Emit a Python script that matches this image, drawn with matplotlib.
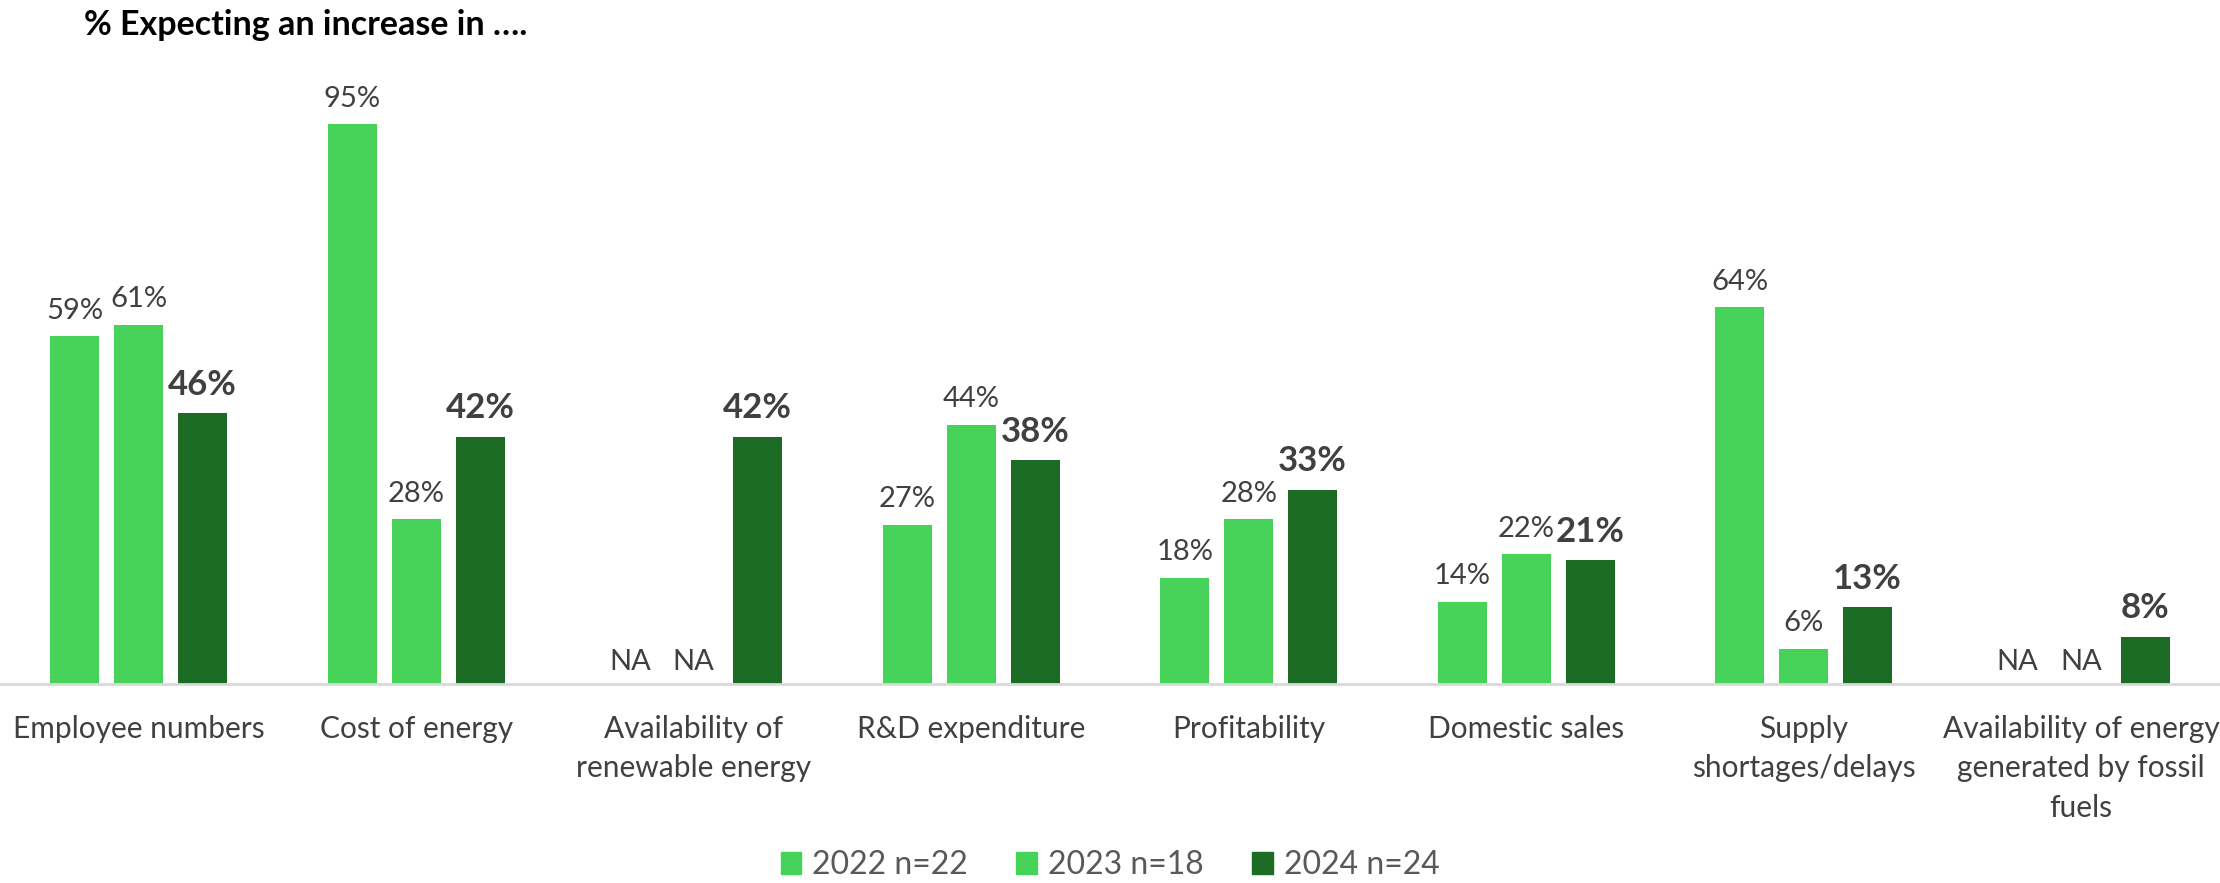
import numpy as np
import matplotlib
matplotlib.use("Agg")
import matplotlib.pyplot as plt
from matplotlib.patches import Patch

# data (None = NA)
categories = [
    "Employee numbers",
    "Cost of energy",
    "Availability of\nrenewable energy",
    "R&D expenditure",
    "Profitability",
    "Domestic sales",
    "Supply\nshortages/delays",
    "Availability of energy\ngenerated by fossil\nfuels",
]
vals_2022 = [59, 95, None, 27, 18, 14, 64, None]
vals_2023 = [61, 28, None, 44, 28, 22, 6, None]
vals_2024 = [46, 42, 42, 38, 33, 21, 13, 8]
series_labels = ["2022 n=22", "2023 n=18", "2024 n=24"]

LIGHT = "#47D35A"
DARK = "#1B6B25"
TXT = "#404040"

plt.rcParams["font.family"] = ["Lato", "DejaVu Sans"]

fig = plt.figure(figsize=(22.2, 8.83), dpi=100)
ax = fig.add_axes([0.0, 0.2254, 1.0, 0.667])

x = np.arange(len(categories))
width = 0.177
step = 0.23
series = [(vals_2022, LIGHT, False), (vals_2023, LIGHT, False), (vals_2024, DARK, True)]

for i, (vals, col, bold) in enumerate(series):
    xs = x + (i - 1) * step
    for xi, v in zip(xs, vals):
        if v is None:
            ax.text(xi, 1.5, "NA", ha="center", va="bottom", fontsize=21, color=TXT)
            continue
        ax.bar(xi, v, width=width, color=col)
        ax.annotate(f"{v}%", (xi, v), xytext=(0, 9), textcoords="offset points",
                    ha="center", va="bottom", color=TXT,
                    fontsize=25 if bold else 21,
                    fontweight="bold" if bold else "normal")

ax.set_xlim(-0.5, len(categories) - 0.5)
ax.set_ylim(0, 100)
ax.set_xticks(x)
ax.set_xticklabels(categories, fontsize=21.5, color=TXT, linespacing=1.5)
ax.tick_params(axis="x", length=0, pad=22)
ax.set_yticks([])
for s in ["top", "right", "left"]:
    ax.spines[s].set_visible(False)
ax.spines["bottom"].set_color("#D9D9D9")
ax.spines["bottom"].set_linewidth(2)

fig.text(0.038, 0.972, "% Expecting an increase in ….", fontsize=24.5,
         fontweight="bold", color="black", ha="left", va="center")

handles = [Patch(color=LIGHT), Patch(color=LIGHT), Patch(color=DARK)]
fig.legend(handles, series_labels, loc="center", bbox_to_anchor=(0.5, 0.02),
           ncol=3, frameon=False, fontsize=23, handlelength=0.65, handleheight=0.65,
           handletextpad=0.35, columnspacing=1.5, labelcolor="#595959")

fig.savefig("out.png", dpi=100)
